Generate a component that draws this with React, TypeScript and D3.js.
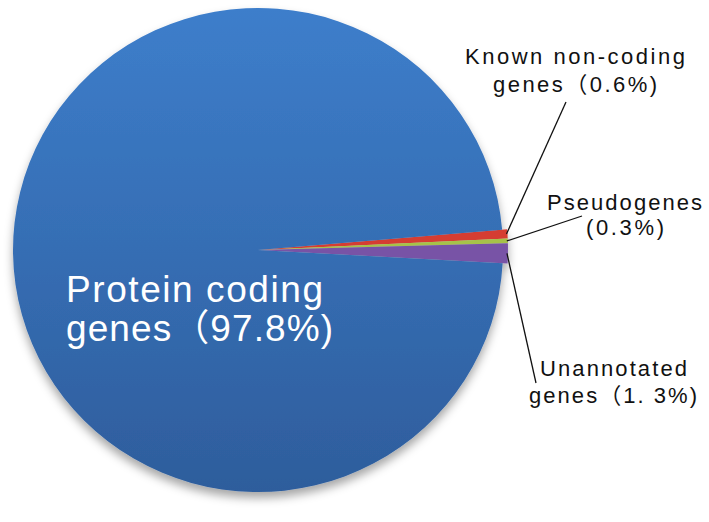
import React from "react";
import * as d3 from "d3";

const categories = ["Known non-coding genes", "Pseudogenes", "Unannotated genes", "Protein coding genes"];
const values = [0.6, 0.3, 1.3, 97.8];
const labelLines = [
  ["Known non-coding", "genes（0.6%)"],
  ["Pseudogenes", "(0.3%)"],
  ["Unannotated", "genes（1. 3%)"],
  ["Protein coding", "genes（97.8%)"],
];

const W = 709;
const H = 522;
const CX = 258;
const CY = 250;
const R = 245;
const SY = 0.988;
const START_DEG = 85.2;
const colors = ["#d53c33", "#a6c24a", "#7852a6", "url(#blueGrad)"];

// label layout: [x, baseline, textLength] for each line, and leader end point
const labelLayout = [
  { lines: [[465, 64, 220], [493, 92, 164]], end: [566, 102], size: 22, fill: "#111" },
  { lines: [[547, 210, 155], [586, 235, 78]], end: [582, 216], size: 22, fill: "#111" },
  { lines: [[540, 376, 147], [529, 403, 168]], end: [536, 383], size: 22, fill: "#111" },
  { lines: [[66, 302, 257], [66, 341, 267]], end: null, size: 37, fill: "#fff" },
];

export default function App() {
  const start = (START_DEG * Math.PI) / 180;
  const pie = d3.pie<number>().sort(null).value((d) => d).startAngle(start).endAngle(start + 2 * Math.PI);
  const arcs = pie(values);
  const arcBig = d3.arc<d3.PieArcDatum<number>>().innerRadius(0).outerRadius(R);
  const arcSmall = d3.arc<d3.PieArcDatum<number>>().innerRadius(0).outerRadius(R + 5);

  return (
    <svg width={W} height={H} style={{ position: "absolute", left: 0, top: 0 }} fontFamily="'Liberation Sans', Arial, 'Noto Sans CJK SC', sans-serif">
      <defs>
        <linearGradient id="blueGrad" gradientUnits="userSpaceOnUse" x1="0" y1={-R} x2="0" y2={R}>
          <stop offset="0" stopColor="#3d7ecb" />
          <stop offset="1" stopColor="#2e5d9c" />
        </linearGradient>
        <filter id="shadow" x="-20%" y="-20%" width="140%" height="140%">
          <feDropShadow dx="0" dy="6" stdDeviation="5" floodColor="#000" floodOpacity="0.35" />
        </filter>
      </defs>
      <rect width={W} height={H} fill="#fff" />
      <g transform={`translate(${CX},${CY}) scale(1,${SY})`}>
        <g filter="url(#shadow)">
          {arcs.map((a, i) => (
            <path key={categories[i]} d={(i === 3 ? arcBig(a) : arcSmall(a)) as string} fill={colors[i]} />
          ))}
        </g>
      </g>
      {arcs.map((a, i) => {
        const L = labelLayout[i];
        const mid = (a.startAngle + a.endAngle) / 2;
        const r0 = R + 4;
        const sx = CX + r0 * Math.sin(mid);
        const sy = CY - r0 * Math.cos(mid) * SY;
        return (
          <g key={"lab" + i}>
            {L.end && <line x1={sx} y1={sy} x2={L.end[0]} y2={L.end[1]} stroke="#111" strokeWidth={1.3} />}
            {labelLines[i].map((t, j) => (
              <text
                key={j}
                x={L.lines[j][0]}
                y={L.lines[j][1]}
                textLength={L.lines[j][2]}
                lengthAdjust="spacing"
                fontSize={L.size}
                fill={L.fill}
              >
                {t}
              </text>
            ))}
          </g>
        );
      })}
    </svg>
  );
}
